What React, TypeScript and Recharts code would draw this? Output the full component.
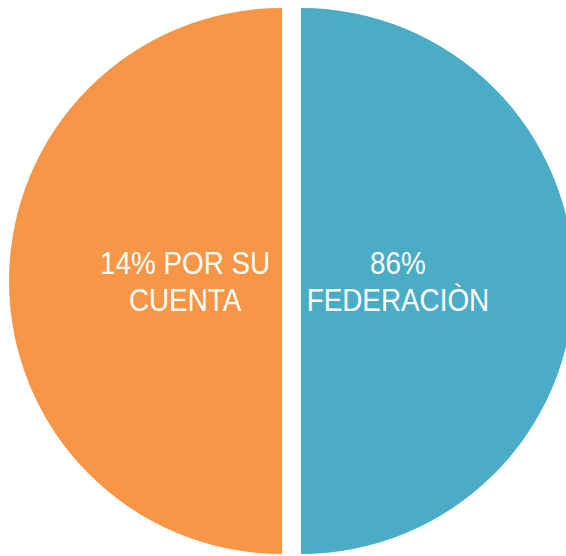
import { PieChart, Pie, Cell } from 'recharts'

const CATEGORIES = ['POR SU CUENTA', 'FEDERACIÒN']
const PERCENTS = [14, 86]
// the source draws both slices as equal halves
const SLICE_SIZES = [50, 50]
const COLORS = ['#F79646', '#4BACC6']

const W = 566
const H = 556
const RADIUS = 273
const CY = 281
const GAP = 9.5

function wrap(text: string, maxChars: number) {
  const lines: string[] = []
  let cur = ''
  for (const word of text.split(' ')) {
    const next = cur ? cur + ' ' + word : word
    if (next.length > maxChars && cur) {
      lines.push(cur)
      cur = word
    } else {
      cur = next
    }
  }
  if (cur) lines.push(cur)
  return lines
}

const rows = CATEGORIES.map((name, i) => ({
  name,
  pct: PERCENTS[i],
  size: SLICE_SIZES[i],
  color: COLORS[i],
}))

const total = SLICE_SIZES.reduce((a, b) => a + b, 0)

const renderLabel = (props: any) => {
  const { cx, cy, midAngle, outerRadius, payload } = props
  const rad = (-midAngle * Math.PI) / 180
  const r = outerRadius * 0.355
  const x = cx + r * Math.cos(rad)
  const y = cy + r * Math.sin(rad)
  const lines = wrap(`${payload.pct}% ${payload.name}`, 10)
  const lh = 36.5
  const y0 = y - ((lines.length - 1) * lh) / 2
  // Liberation Sans is wider than the original font, squeeze it horizontally
  const sx = 0.87
  return (
    <text
      x={x}
      y={y0}
      fill="#ffffff"
      textAnchor="middle"
      dominantBaseline="central"
      fontSize={32}
      fontFamily="'Liberation Sans', Arial, sans-serif"
      transform={`translate(${x} 0) scale(${sx} 1) translate(${-x} 0)`}
    >
      {lines.map((l, k) => (
        <tspan key={k} x={x} dy={k === 0 ? 0 : lh}>
          {l}
        </tspan>
      ))}
    </text>
  )
}

export default function App() {
  // start on the left half and go round counter-clockwise, each half pushed out a little
  let angle = 90
  const pies = rows.map((row) => {
    const sweep = (row.size / total) * 360
    const start = angle
    const end = angle + sweep
    angle = end
    const mid = ((start + end) / 2) * (Math.PI / 180)
    const cx = W / 2 + 8.5 + GAP * Math.cos(mid)
    const cy = CY - GAP * Math.sin(mid)
    return (
      <Pie
        key={row.name}
        data={[row]}
        dataKey="size"
        nameKey="name"
        cx={cx}
        cy={cy}
        outerRadius={RADIUS}
        startAngle={start}
        endAngle={end}
        stroke="none"
        labelLine={false}
        label={renderLabel}
        isAnimationActive={false}
      >
        <Cell fill={row.color} />
      </Pie>
    )
  })

  return (
    <div style={{ width: W, height: H }}>
      <style>{`body{margin:0}`}</style>
      <PieChart width={W} height={H} margin={{ top: 0, right: 0, bottom: 0, left: 0 }}>
        {pies}
      </PieChart>
    </div>
  )
}
